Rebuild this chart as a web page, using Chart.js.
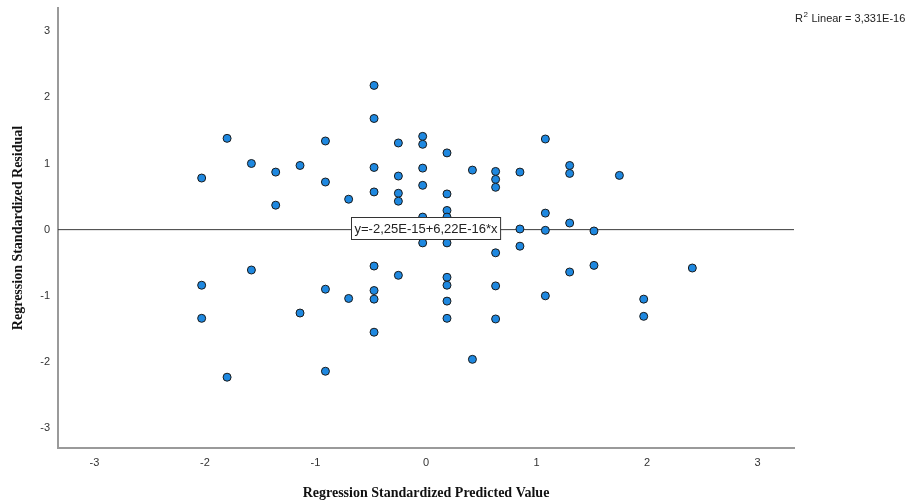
<!DOCTYPE html>
<html>
<head>
<meta charset="utf-8">
<script src="https://cdn.jsdelivr.net/npm/chart.js@4"></script>
<style>
  html, body { margin: 0; padding: 0; background: #fff; }
  #wrap { width: 913px; height: 504px; }
</style>
</head>
<body>
<div id="wrap"><canvas id="chart" width="913" height="504"></canvas></div>
<script>
// -------- DATA --------
const predicted = [
  -2.03, -2.03, -2.03,
  -1.80, -1.80,
  -1.58, -1.58,
  -1.36, -1.36,
  -1.14, -1.14,
  -0.91, -0.91, -0.91, -0.91,
  -0.70, -0.70,
  -0.47, -0.47, -0.47, -0.47, -0.47, -0.47, -0.47, -0.47,
  -0.25, -0.25, -0.25, -0.25, -0.25,
  -0.03, -0.03, -0.03, -0.03, -0.03, -0.03,
  0.19, 0.19, 0.19, 0.19, 0.19, 0.19, 0.19, 0.19, 0.19,
  0.42, 0.42,
  0.63, 0.63, 0.63, 0.63, 0.63, 0.63,
  0.85, 0.85, 0.85,
  1.08, 1.08, 1.08, 1.08,
  1.30, 1.30, 1.30, 1.30,
  1.52, 1.52,
  1.75,
  1.97, 1.97,
  2.41
];
const residual = [
  0.78, -0.84, -1.34,
  1.38, -2.23,
  1.00, -0.61,
  0.87, 0.37,
  0.97, -1.26,
  1.34, 0.72, -0.90, -2.14,
  0.46, -1.04,
  2.18, 1.68, 0.94, 0.57, -0.55, -0.92, -1.05, -1.55,
  1.31, 0.81, 0.55, 0.43, -0.69,
  1.41, 1.29, 0.93, 0.67, 0.19, -0.20,
  1.16, 0.54, 0.29, 0.19, -0.20, -0.72, -0.84, -1.08, -1.34,
  0.90, -1.96,
  0.88, 0.76, 0.64, -0.35, -0.85, -1.35,
  0.87, 0.01, -0.25,
  1.37, 0.25, -0.01, -1.00,
  0.97, 0.85, 0.10, -0.64,
  -0.02, -0.54,
  0.82,
  -1.05, -1.31,
  -0.58
];
const xTicks = [-3, -2, -1, 0, 1, 2, 3];
const yTicks = [-3, -2, -1, 0, 1, 2, 3];
const xMin = -3.33;
const xMax = 3.33;
const yMin = -3.30;
const yMax = 3.35;
const fitIntercept = -2.25e-15;
const fitSlope = 6.22e-16;
const fitLabel = 'y=-2,25E-15+6,22E-16*x';
const r2Label = ' Linear = 3,331E-16';
// -------- END DATA --------

const points = predicted.map((x, i) => ({ x: x, y: residual[i] }));
const fitLine = [xMin, xMax].map(x => ({ x: x, y: fitIntercept + fitSlope * x }));

// -------- PLUGINS --------
const annotations = {
  id: 'annotations',
  afterDatasetsDraw(chart) {
    const ctx = chart.ctx;
    const xs = chart.scales.x;
    const ys = chart.scales.y;
    ctx.save();

    // fit line label box
    ctx.font = '13px "Liberation Sans", Arial, sans-serif';
    const w = ctx.measureText(fitLabel).width + 6;
    const h = 22;
    const cx = xs.getPixelForValue(0);
    const cy = ys.getPixelForValue(0);
    const bx = Math.round(cx - w / 2) + 0.5;
    const by = Math.round(cy - h / 2) - 1.5;
    ctx.fillStyle = '#ffffff';
    ctx.fillRect(bx, by, w, h);
    ctx.strokeStyle = '#333333';
    ctx.lineWidth = 1;
    ctx.strokeRect(bx, by, w, h);
    ctx.fillStyle = '#222222';
    ctx.textBaseline = 'middle';
    ctx.textAlign = 'left';
    ctx.fillText(fitLabel, bx + 3, by + h / 2 + 1);

    // R squared note
    const rx = 795;
    const ry = 19;
    ctx.font = '11px "Liberation Sans", Arial, sans-serif';
    ctx.fillText('R', rx, ry);
    const rw = ctx.measureText('R').width;
    ctx.font = '8px "Liberation Sans", Arial, sans-serif';
    ctx.fillText('2', rx + rw + 0.5, ry - 4);
    const sw = ctx.measureText('2').width;
    ctx.font = '11px "Liberation Sans", Arial, sans-serif';
    ctx.fillText(r2Label, rx + rw + sw + 1, ry);
    ctx.restore();
  }
};
// -------- END PLUGINS --------

// -------- CHART --------
const tickFont = { family: '"Liberation Sans", Arial, sans-serif', size: 11 };
const titleFont = { family: '"Liberation Serif", "Times New Roman", serif', size: 14, weight: 'bold' };

new Chart(document.getElementById('chart'), {
  type: 'scatter',
  data: {
    datasets: [
      {
        label: 'Residuals',
        data: points,
        backgroundColor: '#1e88e0',
        borderColor: '#1a1a1a',
        borderWidth: 1,
        pointRadius: 4,
        pointHoverRadius: 4,
        order: 1
      },
      {
        type: 'line',
        label: 'Fit',
        data: fitLine,
        borderColor: '#3a3a3a',
        borderWidth: 1,
        pointRadius: 0,
        fill: false,
        order: 2
      }
    ]
  },
  options: {
    responsive: false,
    animation: false,
    events: [],
    layout: { padding: { top: 8, right: 119, left: 0, bottom: 0 } },
    plugins: {
      legend: { display: false },
      tooltip: { enabled: false }
    },
    scales: {
      x: {
        type: 'linear',
        min: xMin,
        max: xMax,
        afterBuildTicks: scale => { scale.ticks = xTicks.map(v => ({ value: v })); },
        afterFit: scale => {
          scale.height = 56;
          scale.paddingLeft = 0;
          scale.paddingRight = 0;
        },
        grid: { display: false, drawTicks: false },
        border: { display: true, color: '#9a9a9a', width: 2 },
        ticks: { color: '#333', font: tickFont, padding: 8 },
        title: {
          display: true,
          text: 'Regression Standardized Predicted Value',
          color: '#111',
          font: titleFont,
          padding: { top: 12, bottom: 2 }
        }
      },
      y: {
        type: 'linear',
        min: yMin,
        max: yMax,
        afterBuildTicks: scale => { scale.ticks = yTicks.map(v => ({ value: v })); },
        afterFit: scale => {
          scale.width = 58;
          scale.paddingTop = 0;
          scale.paddingBottom = 0;
        },
        grid: { display: false, drawTicks: false },
        border: { display: true, color: '#9a9a9a', width: 2 },
        ticks: { color: '#333', font: tickFont, padding: 8 },
        title: {
          display: true,
          text: 'Regression Standardized Residual',
          color: '#111',
          font: titleFont,
          padding: { top: 10, bottom: 4 }
        }
      }
    }
  },
  plugins: [annotations]
});
// -------- END CHART --------
</script>
</body>
</html>
